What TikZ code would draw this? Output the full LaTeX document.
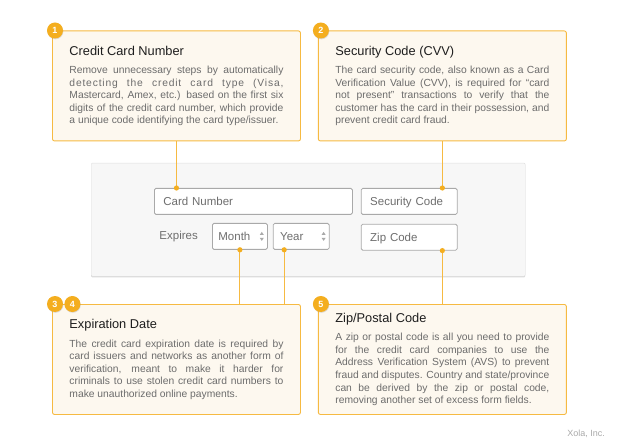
\documentclass[tikz,border=0pt]{standalone}
\usepackage{fontspec}
\setmainfont{Liberation Sans}
\usetikzlibrary{positioning, shadows}
\setlength{\parindent}{0pt}

\definecolor{accent}{HTML}{F6BA42}
\definecolor{badgefill}{HTML}{F4AE1F}
\definecolor{cardfill}{HTML}{FDF8EF}
\definecolor{panelfill}{HTML}{F7F7F7}
\definecolor{panelline}{HTML}{DEDEDE}
\definecolor{fieldline}{HTML}{A9A9A9}
\definecolor{fieldtext}{HTML}{6E6E6E}
\definecolor{bodytext}{HTML}{6C6C6C}
\definecolor{titletext}{HTML}{1E1E1E}

\newcommand{\cardtitle}[1]{{\color{titletext}\fontsize{12.8}{15}\selectfont #1\par}\vspace{5.8pt}}

\tikzset{
  card/.style={draw=accent, line width=0.9pt, fill=cardfill, rounded corners=2pt, anchor=north west,
    text width=214pt, inner xsep=17pt, inner ysep=0pt, minimum height=110pt, align=justify,
    text=bodytext, font=\fontsize{10.3}{12.6}\selectfont},
  badge/.style={circle, fill=badgefill, text=white, minimum size=16pt, inner sep=0pt,
    font=\bfseries\fontsize{9}{9}\selectfont,
    drop shadow={opacity=0.25, shadow xshift=0.4pt, shadow yshift=-0.8pt}},
  panel/.style={draw=panelline, fill=panelfill, rounded corners=1pt, anchor=north west,
    drop shadow={opacity=0.3, shadow xshift=0pt, shadow yshift=-1.2pt}},
  field/.style={draw=fieldline, fill=white, line width=0.8pt, rounded corners=1.5pt, align=left,
    minimum height=26pt, inner xsep=9pt, text height=8.5pt, text depth=0pt,
    text=fieldtext, font=\fontsize{11.5}{12}\selectfont},
  fieldlabel/.style={inner sep=0pt, text=fieldtext, font=\fontsize{11.5}{12}\selectfont},
  connector/.style={draw=accent, line width=1pt},
  joint/.style={fill=badgefill},
  spin/.style={fill=fieldline}
}

\newcommand{\spinner}[1]{
  \fill[spin, shift={(#1.east)}] (-8,-1.5) -- (-4,-1.5) -- (-6,-4.5) -- cycle;
  \fill[spin, shift={(#1.east)}] (-8,1.5) -- (-4,1.5) -- (-6,4.5) -- cycle;
}

\begin{document}
\begin{tikzpicture}[x=1pt, y=-1pt]
  \useasboundingbox (0,0) rectangle (634,446);

  \node[panel, minimum width=434pt, minimum height=113pt] (form) at (91,163) {};

  \node[field, text width=180pt, anchor=north west] (card number) at (154,188) {Card Number};
  \node[field, text width=78pt, right=8pt of card number] (security code) {Security Code};
  \node[field, text width=78pt, below=9pt of security code] (zip code) {Zip Code};
  \node[field, text width=43pt, inner xsep=6pt, anchor=north west] (month) at (212,223) {Month};
  \node[field, text width=42pt, inner xsep=7pt, right=5pt of month] (year) {Year};
  \node[fieldlabel, left=14pt of month] (expires) {Expires};
  \spinner{month}
  \spinner{year}

  \node[card] (card 1) at (52,30.5) {\cardtitle{Credit Card Number}%
    Remove unnecessary steps by automatically\linebreak
    {\addfontfeature{LetterSpace=8}detecting the credit card type (Visa,}\linebreak
    Mastercard, Amex, etc.) based on the first six\linebreak
    digits of the credit card number, which provide\linebreak
    a unique code identifying the card type/issuer.};
  \node[card, right=17pt of card 1] (card 2) {\cardtitle{Security Code (CVV)}%
    The card security code, also known as a Card\linebreak
    Verification Value (CVV), is required for “card\linebreak
    not present” transactions to verify that the\linebreak
    customer has the card in their possession, and\linebreak
    prevent credit card fraud.};
  \node[card] (card 3) at (52,304) {\cardtitle{Expiration Date}%
    The credit card expiration date is required by\linebreak
    card issuers and networks as another form of\linebreak
    verification, meant to make it harder for\linebreak
    criminals to use stolen credit card numbers to\linebreak
    make unauthorized online payments.};
  \node[card, right=17pt of card 3] (card 5) {\cardtitle{Zip/Postal Code}%
    A zip or postal code is all you need to provide\linebreak
    for the credit card companies to use the\linebreak
    Address Verification System (AVS) to prevent\linebreak
    fraud and disputes. Country and state/province\linebreak
    can be derived by the zip or postal code,\linebreak
    removing another set of excess form fields.};

  \coordinate (pin number) at (card 1.south |- card number.north);
  \coordinate (pin cvv) at (card 2.south |- security code.north);
  \coordinate (pin month) at (month.south);
  \coordinate (pin year) at ([xshift=-17pt]year.south);
  \coordinate (pin zip) at (zip code.south -| card 5.north);

  \draw[connector] (card 1) -- (pin number);
  \draw[connector] (card 2) -- (pin cvv);
  \draw[connector] (pin month) -- (pin month |- card 3.north);
  \draw[connector] (pin year) -- (pin year |- card 3.north);
  \draw[connector] (pin zip) -- (card 5);

  \foreach \p in {pin number, pin cvv, pin month, pin year, pin zip}
    \fill[joint] (\p) circle (2.6pt);

  \node[badge] (badge 1) at ([xshift=3pt]card 1.north west) {1};
  \node[badge] (badge 2) at ([xshift=3pt]card 2.north west) {2};
  \node[badge] (badge 3) at ([xshift=3pt]card 3.north west) {3};
  \node[badge, right=1pt of badge 3] (badge 4) {4};
  \node[badge] (badge 5) at ([xshift=3pt]card 5.north west) {5};

  \node[anchor=base east, inner sep=0pt, text=fieldline, font=\fontsize{9}{9}\selectfont] (credit) at (605,436) {Xola, Inc.};
\end{tikzpicture}
\end{document}
